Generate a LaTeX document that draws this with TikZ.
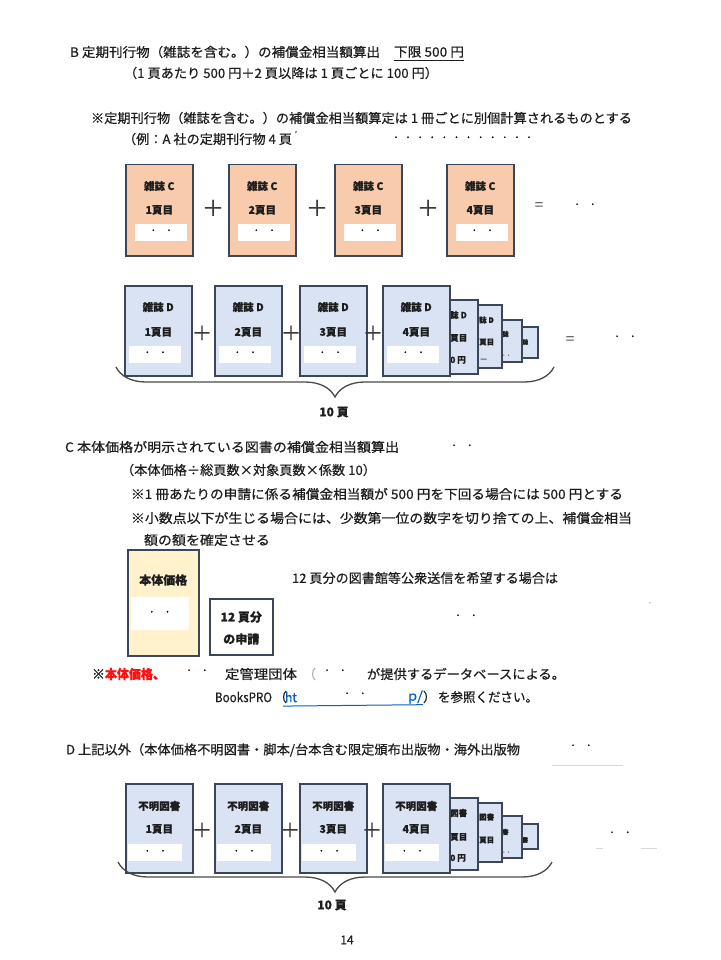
\documentclass[tikz,border=0pt]{standalone}
\usepackage{fontspec}
\usepackage{graphicx}
\setmainfont{Noto Sans CJK JP}[FakeBold=0.5]
\usetikzlibrary{calc,decorations.pathreplacing}
\definecolor{bordc}{HTML}{3B4759}
\definecolor{orangef}{HTML}{F8CBAD}
\definecolor{bluef}{HTML}{DAE3F3}
\definecolor{yellowf}{HTML}{FFF2CC}
\definecolor{txtc}{HTML}{1E1E1E}
\definecolor{linkc}{HTML}{0563C1}
\definecolor{redc}{HTML}{FF1010}
\definecolor{plusc}{HTML}{3A3A3A}
\definecolor{bracec}{HTML}{4A4A4A}
\newcommand{\fitw}[2]{\resizebox{#1pt}{\height}{#2}}
\newcommand{\twodots}{·\hspace{9pt}·}
\tikzset{
  tx/.style={anchor=west, inner sep=0pt, outer sep=0pt, text=txtc, font=\fontsize{13}{15}\selectfont},
  pg/.style={draw=bordc, line width=1.5pt, inner sep=0pt, anchor=north west},
  lbl/.style={inner sep=0pt, text=txtc, font=\fontsize{10.5}{12}\selectfont\bfseries},
  lblL/.style={inner sep=0pt, text=txtc, font=\fontsize{12}{14}\selectfont\bfseries},
  frag/.style={anchor=west, inner sep=0pt, text=txtc, font=\fontsize{8.5}{10}\selectfont\bfseries},
  wht/.style={fill=white, inner sep=0pt, minimum width=52pt, minimum height=17pt, text=black, font=\fontsize{12}{12}\selectfont},
  plus/.style={inner sep=0pt, text=plusc, font=\fontsize{22}{22}\selectfont},
  eqs/.style={inner sep=0pt, text=black!60, font=\fontsize{15}{15}\selectfont},
  dts/.style={inner sep=0pt, text=black, font=\fontsize{12}{12}\selectfont},
  bracestyle/.style={decorate, decoration={brace, mirror, amplitude=30pt}, line width=1.3pt, draw=bracec},
}
\begin{document}
\begin{tikzpicture}[x=1pt,y=-1pt]
\useasboundingbox[fill=white] (0,0) rectangle (720,960);

% ---------- Section B ----------
\node[tx] (L1a) at (70,52) {\fitw{310}{B 定期刊行物（雑誌を含む。）の補償金相当額算出}};
\node[tx] (L1b) at (394,52) {\fitw{70}{下限 500 円}};
\draw[txtc, line width=0.9pt] ($(L1b.base west)+(0,4)$) -- ($(L1b.base east)+(0,4)$);
\node[tx] (L2) at (124,73) {\fitw{314}{（1 頁あたり 500 円＋2 頁以降は 1 頁ごとに 100 円）}};
\node[tx] (L3) at (91,118) {\fitw{541}{※定期刊行物（雑誌を含む。）の補償金相当額算定は 1 冊ごとに別個計算されるものとする}};
\node[tx] (L4) at (123,139) {\fitw{169}{（例：A 社の定期刊行物 4 頁}};
\node[inner sep=0pt, text=black!70, font=\fontsize{8}{8}\selectfont] (L4t) at (296,134) {'};
\foreach \k in {0,...,11} \node[dts] (L4d\k) at (396+12.1*\k,139) {·};

% Row C (orange)
\foreach \i/\x in {1/125,2/228,3/334,4/446}{
  \node[pg, fill=orangef, minimum width=67pt, minimum height=91pt] (C\i) at (\x,164) {};
  \node[lbl] (Ca\i) at ($(C\i.north)+(0,22)$) {雑誌 C};
  \node[lbl] (Cb\i) at ($(C\i.north)+(0,46)$) {\i 頁目};
  \node[wht] (Cw\i) at ($(C\i.north)+(2,68)$) {\twodots};
}
\node[plus] (Cp1) at (213,208) {＋};
\node[plus] (Cp2) at (317,208) {＋};
\node[plus] (Cp3) at (428,208) {＋};
\node[eqs] (Ceq) at (539,206) {=};
\node[dts] (Cdots) at (585,206) {\twodots};

% Row D (blue) - small pages behind
\node[pg, fill=bluef, minimum width=44pt, minimum height=31pt] (D8) at (493,326) {};
\node[frag, font=\fontsize{6}{7}\selectfont\bfseries] (D8a) at (522,342) {誌};
\node[pg, fill=bluef, minimum width=48pt, minimum height=42pt] (D7) at (473,319) {};
\node[frag, font=\fontsize{6.5}{7}\selectfont\bfseries] (D7a) at (502,334) {誌};
\node[frag, font=\fontsize{6}{7}\selectfont] (D7b) at (502,356) {· ·};
\node[pg, fill=bluef, minimum width=46pt, minimum height=63pt] (D6) at (455,304) {};
\node[frag, font=\fontsize{7.5}{8}\selectfont\bfseries] (D6a) at (479,320) {誌 D};
\node[frag, font=\fontsize{7.5}{8}\selectfont\bfseries] (D6b) at (479,342) {頁目};
\node[frag, font=\fontsize{7.5}{8}\selectfont] (D6c) at (480,360) {—};
\node[pg, fill=bluef, minimum width=62pt, minimum height=74pt] (D5) at (415,299) {};
\node[frag] (D5a) at (450,315) {誌 D};
\node[frag] (D5b) at (450,338) {頁目};
\node[frag] (D5c) at (450,360) {0 円};
\foreach \i/\x in {1/124,2/214,3/299,4/382}{
  \node[pg, fill=bluef, minimum width=67pt, minimum height=90pt] (D\i) at (\x,285) {};
  \node[lbl] (Da\i) at ($(D\i.north)+(0,22)$) {雑誌 D};
  \node[lbl] (Db\i) at ($(D\i.north)+(0,47)$) {\i 頁目};
  \node[wht] (Dw\i) at ($(D\i.north)+(-3,69)$) {\twodots};
}
\node[plus, font=\fontsize{20}{20}\selectfont] (Dp1) at (202,333) {＋};
\node[plus, font=\fontsize{20}{20}\selectfont] (Dp2) at (291,333) {＋};
\node[plus, font=\fontsize{20}{20}\selectfont] (Dp3) at (373,333) {＋};
\node[eqs] (Deq) at (570,340) {=};
\node[dts] (Ddots) at (625,338) {\twodots};
\coordinate (Dbl) at (116,367);
\coordinate (Dbr) at (554,367);
\draw[bracestyle] (Dbl) -- (Dbr);
\node[lblL] (Dten) at (334,412) {10 頁};

% ---------- Section C ----------
\node[tx] (C1t) at (65,447) {\fitw{334}{C 本体価格が明示されている図書の補償金相当額算出}};
\node[dts] (C1d) at (462,447) {\twodots};
\node[tx] (C2t) at (121,470) {\fitw{255}{（本体価格÷総頁数×対象頁数×係数 10）}};
\node[tx] (C3t) at (131,494) {\fitw{492}{※1 冊あたりの申請に係る補償金相当額が 500 円を下回る場合には 500 円とする}};
\node[tx] (C4t) at (131,518) {\fitw{501}{※小数点以下が生じる場合には、少数第一位の数字を切り捨ての上、補償金相当}};
\node[tx] (C5t) at (144,540) {\fitw{126}{額の額を確定させる}};

\node[pg, fill=yellowf, minimum width=71pt, minimum height=106pt] (Pb) at (127,549) {};
\node[lblL] (Pbt) at ($(Pb.north)+(0,31)$) {本体価格};
\node[wht, minimum width=58pt, minimum height=33pt] (Pbw) at ($(Pb.north)+(-3.5,64.5)$) {\twodots};
\node[pg, fill=white, minimum width=63pt, minimum height=56pt] (Rq) at (209,598) {};
\node[lblL] (Rqa) at ($(Rq.north)+(0,19)$) {12 頁分};
\node[lblL] (Rqb) at ($(Rq.north)+(0,41)$) {の申請};

\node[tx] (C6t) at (292,578) {\fitw{266}{12 頁分の図書館等公衆送信を希望する場合は}};
\node[dts] (C6d) at (466,617) {\twodots};
\node[inner sep=0pt, text=black!45, font=\fontsize{8}{8}\selectfont] (C6x) at (650,604) {·};

\node[tx] (C7a) at (92,674) {※};
\node[tx, text=redc, font=\fontsize{13}{15}\selectfont\bfseries] (C7b) at (105,674) {\fitw{60}{本体価格、}};
\node[dts] (C7c) at (197,672) {\twodots};
\node[tx] (C7d) at (225,674) {\fitw{72}{定管理団体}};
\node[tx, text=black!30] (C7e) at (303,674) {（};
\node[dts] (C7f) at (335,672) {\twodots};
\node[tx] (C7g) at (367,674) {\fitw{198}{が提供するデータベースによる。}};

\node[tx] (C8a) at (215,697) {\fitw{57}{BooksPRO}};
\node[tx] (C8b) at (274,697) {（};
\node[tx, text=linkc] (C8c) at (285,697) {\fitw{12}{ht}};
\node[dts] (C8d) at (355,695) {\twodots};
\node[tx, text=linkc] (C8e) at (408,697) {\fitw{15}{p/}};
\node[tx] (C8f) at (423,697) {）};
\node[tx] (C8g) at (438,697) {\fitw{100}{を参照ください。}};
\draw[linkc, line width=1pt] ($(C8c.base west)+(-2,4)$) -- ($(C8e.base east)+(0,4)$);

% ---------- Section D ----------
\node[tx] (E1t) at (66,750) {\fitw{454}{D 上記以外（本体価格不明図書・脚本/台本含む限定頒布出版物・海外出版物}};
\node[dts] (E1d) at (581,747) {\twodots};
\draw[black!15, line width=0.8pt] (552,765) -- (623,765);

\node[pg, fill=bluef, minimum width=44pt, minimum height=25pt] (E8) at (493,823) {};
\node[frag, font=\fontsize{6}{7}\selectfont\bfseries] (E8a) at (522,840) {書};
\node[pg, fill=bluef, minimum width=48pt, minimum height=42pt] (E7) at (473,815) {};
\node[frag, font=\fontsize{6.5}{7}\selectfont\bfseries] (E7a) at (502,832) {書};
\node[frag, font=\fontsize{6}{7}\selectfont] (E7b) at (502,853) {· ·};
\node[pg, fill=bluef, minimum width=46pt, minimum height=59pt] (E6) at (455,802) {};
\node[frag, font=\fontsize{7.5}{8}\selectfont\bfseries] (E6a) at (479,817) {図書};
\node[frag, font=\fontsize{7.5}{8}\selectfont\bfseries] (E6b) at (479,840) {頁目};
\node[pg, fill=bluef, minimum width=62pt, minimum height=72pt] (E5) at (415,797) {};
\node[frag] (E5a) at (450,813) {図書};
\node[frag] (E5b) at (450,837) {頁目};
\node[frag] (E5c) at (450,858) {0 円};
\foreach \i/\x in {1/125,2/214,3/299,4/382}{
  \node[pg, fill=bluef, minimum width=67pt, minimum height=89pt] (E\i) at (\x,783) {};
  \node[lbl] (Ea\i) at ($(E\i.north)+(0,23)$) {不明図書};
  \node[lbl] (Eb\i) at ($(E\i.north)+(0,46)$) {\i 頁目};
  \node[wht, minimum width=54pt] (Ew\i) at ($(E\i.north)+(-4,69.5)$) {\twodots};
}
\node[plus, font=\fontsize{20}{20}\selectfont] (Ep1) at (202,830) {＋};
\node[plus, font=\fontsize{20}{20}\selectfont] (Ep2) at (290,830) {＋};
\node[plus, font=\fontsize{20}{20}\selectfont] (Ep3) at (372,830) {＋};
\node[dts] (Edots) at (620,834) {\twodots};
\draw[black!15, line width=1pt] (596,848) -- (603,848);
\draw[black!15, line width=1pt] (641,848) -- (657,848);
\coordinate (Ebl) at (118,862);
\coordinate (Ebr) at (552,862);
\draw[bracestyle] (Ebl) -- (Ebr);
\node[lblL] (Eten) at (332,905) {10 頁};

\node[inner sep=0pt, text=txtc, font=\fontsize{12}{12}\selectfont] (pnum) at (347,940) {14};
\end{tikzpicture}
\end{document}
